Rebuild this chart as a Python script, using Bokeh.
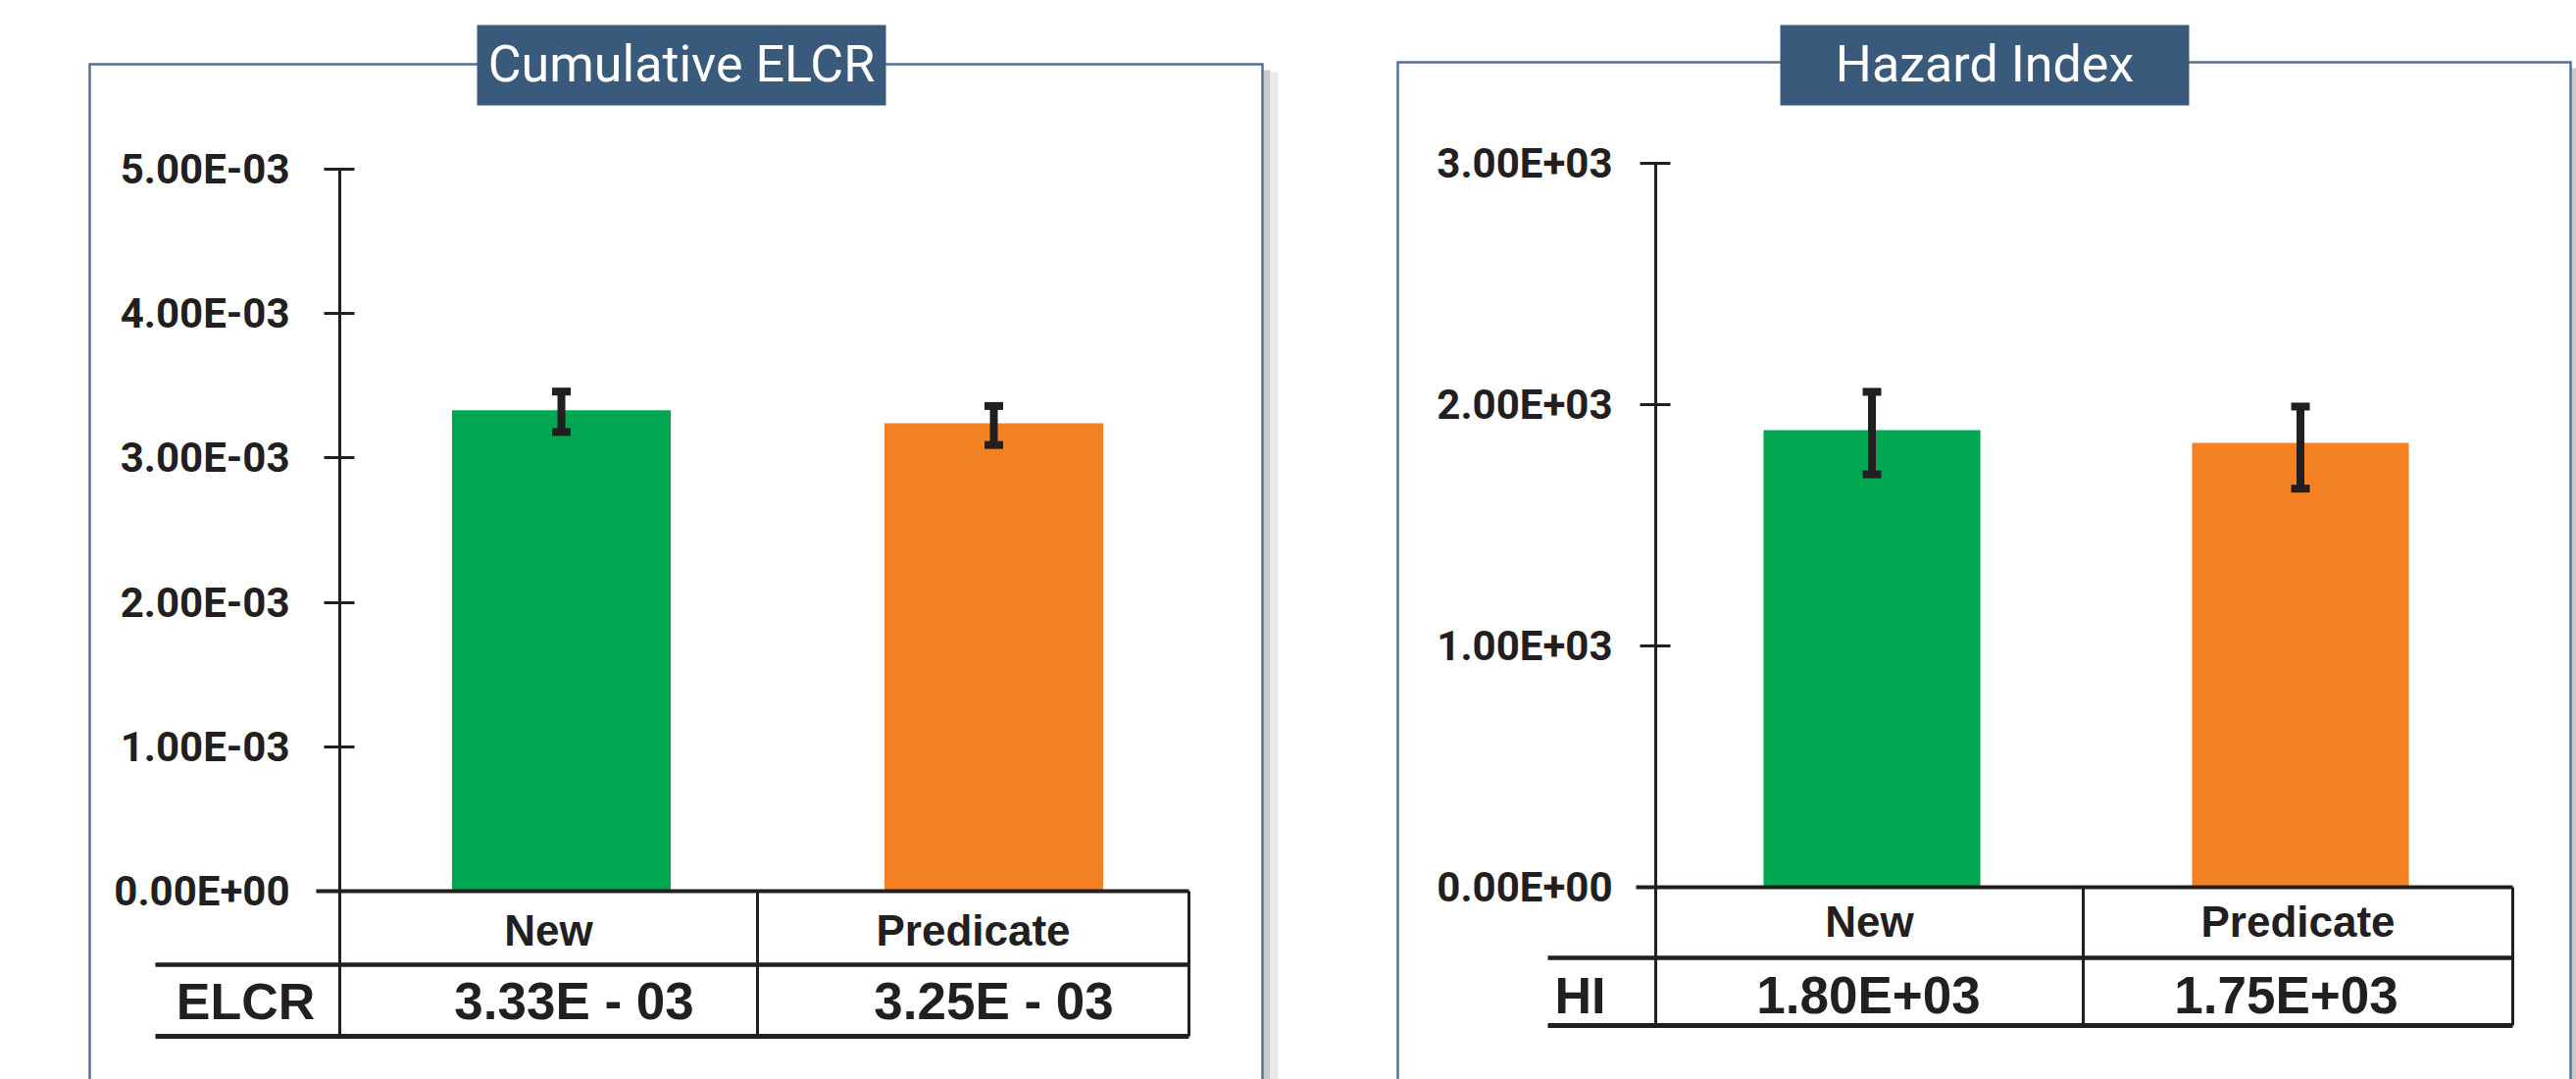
from bokeh.plotting import figure
from bokeh.layouts import row
from bokeh.models import LinearAxis, FixedTicker, CustomJSTickFormatter, Range1d
from bokeh.core.properties import value
from bokeh.embed import file_html
from bokeh.resources import INLINE

# ---------------- data ----------------
categories = ["New", "Predicate"]
bar_colors = ["#00A650", "#F38022"]

elcr_values = [3.33e-3, 3.24e-3]
elcr_err_low = [3.18e-3, 3.09e-3]
elcr_err_high = [3.46e-3, 3.36e-3]
elcr_table = ["3.33E - 03", "3.25E - 03"]
elcr_ticks = [0.0, 1e-3, 2e-3, 3e-3, 4e-3, 5e-3]
elcr_tick_labels = ["0.00E+00", "1.00E-03", "2.00E-03", "3.00E-03", "4.00E-03", "5.00E-03"]

hi_values = [1894, 1841]
hi_err_low = [1711, 1652]
hi_err_high = [2053, 1992]
hi_table = ["1.80E+03", "1.75E+03"]
hi_ticks = [0, 1000, 2000, 3000]
hi_tick_labels = ["0.00E+00", "1.00E+03", "2.00E+03", "3.00E+03"]

INK = "#231f20"
FIG_H = 1100
TOP = 0


def make_panel(title, row_label, values, lo, hi, table_labels, ticks, tick_labels, g):
    ax, xu, zy, ys = g["axis_px"], g["xunit"], g["zero_py"], g["yscale"]

    def X(px):
        return (px - ax) / xu

    def Y(py):
        return (zy - py) / ys

    fl, W = g["fig_left"], g["width"]
    p = figure(width=W, height=FIG_H,
               x_range=Range1d(X(fl), X(fl + W)),
               y_range=Range1d(Y(TOP + FIG_H), Y(TOP)),
               output_backend="svg", toolbar_location=None,
               x_axis_location=None, y_axis_location=None, min_border=0)
    p.xgrid.visible = False
    p.ygrid.visible = False
    p.outline_line_color = None
    p.background_fill_color = "white"
    p.border_fill_color = "white"

    # panel frame with shadow
    bl, bt, br = g["box"]
    p.quad(left=[X(br + 1)], right=[X(br + 8)], top=[Y(bt + 6)], bottom=[Y(1120)],
           fill_color="#c9c9c9", line_color=None)
    p.quad(left=[X(br + 8)], right=[X(br + 16)], top=[Y(bt + 8)], bottom=[Y(1120)],
           fill_color="#e8e8e8", line_color=None)
    p.line(x=[X(bl), X(bl), X(br), X(br)], y=[Y(1120), Y(bt), Y(bt), Y(1120)],
           line_color="#56718f", line_width=2.5, line_join="miter")

    # title box
    tl, tt, tr, tb = g["title_box"]
    p.quad(left=[X(tl)], right=[X(tr)], top=[Y(tt)], bottom=[Y(tb)],
           fill_color="#3a5a7b", line_color=None)
    p.text(x=[X((tl + tr) / 2)], y=[Y((tt + tb) / 2 - 1)], text=[title],
           text_align="center", text_baseline="middle", text_color="white",
           text_font=value("Roboto"), text_font_size="52px")

    # bars
    xs = [i + 0.5 + g["bar_shift"] for i in range(len(categories))]
    p.vbar(x=xs, width=g["bar_w"], top=values, bottom=0, fill_color=bar_colors, line_color=None)

    # error bars
    p.segment(x0=xs, y0=lo, x1=xs, y1=hi, line_color=INK, line_width=8)
    p.rect(x=xs + xs, y=lo + hi, width=19, height=8, width_units="screen", height_units="screen",
           fill_color=INK, line_color=None)

    # y axis
    tol = 1e-6 * max(abs(t) for t in ticks)
    axis = LinearAxis(fixed_location=0, bounds=(0, ticks[-1]),
                      ticker=FixedTicker(ticks=ticks, minor_ticks=[]),
                      formatter=CustomJSTickFormatter(
                          args=dict(tick_vals=ticks, tick_labs=tick_labels, tol=tol),
                          code="""
                          const i = tick_vals.findIndex(t => Math.abs(t - tick) <= tol);
                          return i >= 0 ? tick_labs[i] : '';
                          """),
                      axis_line_color=INK, axis_line_width=3,
                      major_tick_line_color=INK, major_tick_line_width=3,
                      major_tick_in=15, major_tick_out=16,
                      minor_tick_line_color=None,
                      major_label_standoff=g["standoff"],
                      major_label_text_font="Roboto",
                      major_label_text_font_style="bold",
                      major_label_text_font_size="42px",
                      major_label_text_color=INK)
    p.add_layout(axis, "left")

    # table
    t = g["table"]
    v0, v1, v2 = t["vlines"]
    p.segment(x0=[X(t["top_x0"])], y0=[Y(t["top_y"])], x1=[X(v2)], y1=[Y(t["top_y"])],
              line_color=INK, line_width=4)
    p.segment(x0=[X(v) for v in (v0, v1, v2)], y0=[Y(t["top_y"])] * 3,
              x1=[X(v) for v in (v0, v1, v2)], y1=[Y(t["bot_y"])] * 3,
              line_color=INK, line_width=3)
    p.segment(x0=[X(t["left_x"])], y0=[Y(t["mid_y"])], x1=[X(v2)], y1=[Y(t["mid_y"])],
              line_color=INK, line_width=4.5)
    p.segment(x0=[X(t["left_x"])], y0=[Y(t["bot_y"])], x1=[X(v2)], y1=[Y(t["bot_y"])],
              line_color=INK, line_width=5)

    p.text(x=[X((v0 + v1) / 2), X((v1 + v2) / 2)], y=[Y(t["cat_y"])] * 2, text=categories,
           text_align="center", text_baseline="middle", text_color=INK,
           text_font=value("Liberation Sans"), text_font_style="bold", text_font_size="44px")
    p.text(x=[X(v) for v in t["val_x"]], y=[Y(t["val_y"])] * 2, text=table_labels,
           text_align="center", text_baseline="middle", text_color=INK,
           text_font=value("Liberation Sans"), text_font_style="bold", text_font_size="53px")
    p.text(x=[X(t["row_x"])], y=[Y(t["val_y"])], text=[row_label],
           text_align="center", text_baseline="middle", text_color=INK,
           text_font=value("Liberation Sans"), text_font_style="bold", text_font_size="52px")
    return p


left_geom = dict(fig_left=0, width=1350, axis_px=346, xunit=441, zero_py=908, yscale=147200.0,
                 bar_shift=0.0125, bar_w=0.506, standoff=35,
                 box=(91, 65, 1287), title_box=(486, 25, 903, 107),
                 table=dict(top_y=908, top_x0=322, mid_y=983, bot_y=1056, left_x=158,
                            vlines=(346, 772, 1212), cat_y=948, val_y=1020,
                            val_x=(585, 1013), row_x=250))
right_geom = dict(fig_left=1350, width=1277, axis_px=1688, xunit=437, zero_py=904, yscale=0.246,
                  bar_shift=0.0046, bar_w=0.506, standoff=28,
                  box=(1425, 63, 2621), title_box=(1815, 25, 2232, 107),
                  table=dict(top_y=904, top_x0=1668, mid_y=976, bot_y=1045, left_x=1578,
                             vlines=(1688, 2124, 2562), cat_y=939, val_y=1014,
                             val_x=(1905, 2331), row_x=1611))

p1 = make_panel("Cumulative ELCR", "ELCR", elcr_values, elcr_err_low, elcr_err_high,
                elcr_table, elcr_ticks, elcr_tick_labels, left_geom)
p2 = make_panel("Hazard Index", "HI", hi_values, hi_err_low, hi_err_high,
                hi_table, hi_ticks, hi_tick_labels, right_geom)

layout = row(p1, p2, spacing=0)
open("out.html", "w").write(file_html(layout, INLINE))
